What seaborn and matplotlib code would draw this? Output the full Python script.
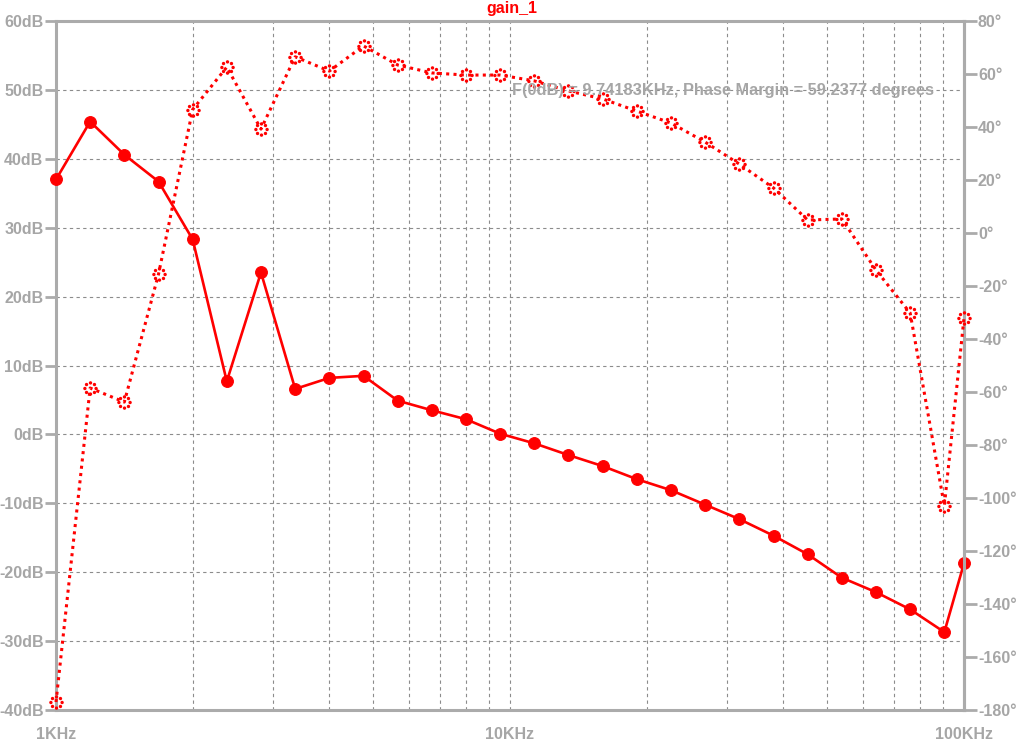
import numpy as np
import pandas as pd
import matplotlib
matplotlib.use('Agg')
import matplotlib.pyplot as plt
from matplotlib.path import Path
from matplotlib.ticker import FixedLocator, NullFormatter, FixedFormatter
import seaborn as sns

# AC sweep points (Hz), 4 per octave, last at 100KHz
freq = [1000, 1189, 1414, 1682, 2000, 2378, 2828, 3364, 4000, 4757, 5657, 6727,
        8000, 9514, 11314, 13454, 16000, 19027, 22627, 26909, 32000, 38055,
        45255, 53817, 64000, 76109, 90510, 100000]
gain_db = [37.0, 45.4, 40.6, 36.7, 28.3, 7.7, 23.5, 6.6, 8.2, 8.5, 4.9, 3.5,
           2.2, 0.1, -1.3, -3.0, -4.6, -6.5, -8.1, -10.2, -12.3, -14.7,
           -17.4, -20.8, -22.9, -25.4, -28.7, -18.7]
phase_deg = [-177.0, -58.5, -63.8, -15.5, 46.6, 62.6, 39.2, 66.5, 61.1, 70.6, 63.4, 60.4,
             59.6, 59.6, 57.4, 53.6, 50.6, 46.0, 41.5, 34.3, 26.0, 17.0,
             4.9, 5.3, -14.0, -30.2, -103.0, -32.1]

db_ticks = list(range(-40, 61, 10))
deg_ticks = list(range(-180, 81, 20))
x_major = [1e3, 1e4, 1e5]
x_major_labels = ['1KHz', '10KHz', '100KHz']
note = 'F(0dB) = 9.74183KHz, Phase Margin = 59.2377 degrees'

df = pd.DataFrame({'freq': freq, 'gain': gain_db, 'phase': phase_deg})

sns.set_style('white')
plt.rcParams['font.family'] = ['Liberation Sans', 'DejaVu Sans']
plt.rcParams['font.weight'] = 'bold'

GRAY = '#ababab'
LBL = '#a6a6a6'

fig = plt.figure(figsize=(10.24, 7.42), dpi=100)
ax = fig.add_axes([56 / 1024, 1 - 710 / 742, 908 / 1024, 689 / 742])
ax2 = ax.twinx()

# gain: solid line with filled dots
sns.lineplot(data=df, x='freq', y='gain', ax=ax, color='red', lw=1.9,
             marker='o', markersize=8.5, markeredgecolor='red', clip_on=False, zorder=5)

# phase: dotted line, markers as a ring of dots (LTspice style)
angles = np.linspace(0, 2 * np.pi, 8, endpoint=False)
ring = Path.make_compound_path(*[Path.circle((np.cos(a), np.sin(a)), 0.3) for a in angles])
sns.lineplot(data=df, x='freq', y='phase', ax=ax2, color='red', lw=2.2,
             linestyle=(0, (1, 1.4)), marker=ring, markersize=10.5,
             markeredgewidth=0, markerfacecolor='red', clip_on=False, zorder=5)

ax.set_xscale('log')
ax.set_xlim(1e3, 1e5)
ax.set_ylim(-40, 60)
ax2.set_ylim(-180, 80)

ax.xaxis.set_major_locator(FixedLocator(x_major))
ax.xaxis.set_major_formatter(FixedFormatter(x_major_labels))
minors = [m * d for d in (1e3, 1e4) for m in range(2, 10)]
ax.xaxis.set_minor_locator(FixedLocator(minors))
ax.xaxis.set_minor_formatter(NullFormatter())
ax.set_yticks(db_ticks)
ax.set_yticklabels([f'{v}dB' for v in db_ticks])
ax2.set_yticks(deg_ticks)
ax2.set_yticklabels([f'{v}\u00b0' for v in deg_ticks])

ax.set_xlabel('')
ax.set_ylabel('')
ax2.set_ylabel('')

grid_kw = dict(color='#8c8c8c', lw=0.8, linestyle=(0, (3, 3)))
ax.grid(True, which='both', axis='x', **grid_kw)
ax.grid(True, which='major', axis='y', **grid_kw)
ax.set_axisbelow(True)

for a in (ax, ax2):
    for s in a.spines.values():
        s.set_color(GRAY)
        s.set_linewidth(2.2)
ax2.spines['left'].set_visible(False)
ax2.spines['top'].set_visible(False)
ax2.spines['bottom'].set_visible(False)

ax.tick_params(axis='y', which='major', direction='out', length=8, width=2,
               color=GRAY, labelcolor=LBL, labelsize=11.5, pad=1)
ax2.tick_params(axis='y', which='major', direction='out', length=9, width=2,
                color=GRAY, labelcolor=LBL, labelsize=11.5, pad=1)
ax.tick_params(axis='x', which='major', direction='out', length=9, width=2,
               color=GRAY, labelcolor=LBL, labelsize=11.5, pad=3)
ax.tick_params(axis='x', which='minor', direction='out', length=5, width=2,
               color=GRAY)

ax2.text((512 - 56) / 908, (710 - 91) / 689, note, transform=ax2.transAxes,
         ha='left', va='center', color=LBL, fontsize=11.8, zorder=6)

fig.text(0.5, 1 - 9 / 742, 'gain_1', color='red', ha='center', va='center',
         fontsize=11.5, fontweight='bold')

fig.savefig('out.png', dpi=100)
